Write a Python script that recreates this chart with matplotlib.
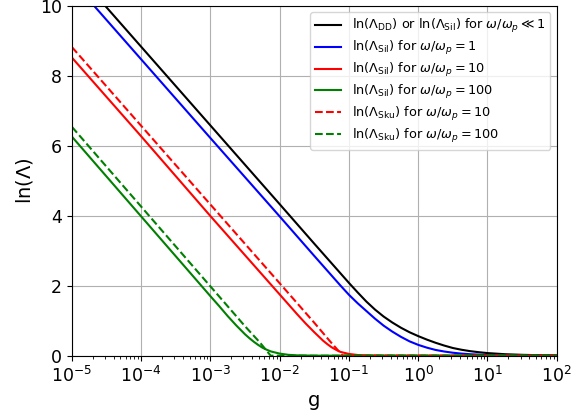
import numpy as np
import matplotlib
matplotlib.use('Agg')
import matplotlib.pyplot as plt

# log10(g) sample positions and ln(Lambda) values
black_lg = [-5.0, -4.52, -4.0, -3.0, -2.0, -1.5, -1.25, -1.0, -0.875, -0.75, -0.625, -0.5, -0.375,
            -0.25, -0.125, 0.0, 0.125, 0.25, 0.375, 0.5, 0.625, 0.75, 0.875, 1.0, 1.25, 1.5, 1.75, 2.0]
black_v = [11.1, 10.0, 8.83, 6.58, 4.33, 3.20, 2.64, 2.08, 1.81, 1.55, 1.32, 1.12, 0.95,
           0.80, 0.67, 0.56, 0.46, 0.37, 0.29, 0.22, 0.17, 0.13, 0.10, 0.075, 0.043, 0.025, 0.014, 0.008]

blue_lg = [-5.0, -4.0, -3.0, -2.0, -1.5, -1.25, -1.125, -1.0, -0.875, -0.75, -0.625, -0.5, -0.375,
           -0.25, -0.125, 0.0, 0.125, 0.25, 0.375, 0.5, 0.625, 0.75, 1.0, 1.5, 2.0]
blue_v = [10.72, 8.47, 6.22, 3.98, 2.85, 2.29, 2.01, 1.74, 1.50, 1.28, 1.06, 0.86, 0.69,
          0.54, 0.41, 0.31, 0.23, 0.165, 0.12, 0.085, 0.06, 0.042, 0.02, 0.006, 0.002]

red_lg = [-5.0, -4.0, -3.0, -2.0, -1.875, -1.75, -1.625, -1.5, -1.437, -1.374, -1.312, -1.25,
          -1.187, -1.125, -1.0, -0.875, -0.75, -0.5, 0.0, 2.0]
red_v = [8.52, 6.27, 3.99, 1.75, 1.47, 1.19, 0.92, 0.67, 0.55, 0.43, 0.33, 0.24,
         0.17, 0.11, 0.05, 0.02, 0.008, 0.001, 0.0, 0.0]

green_lg = [-5.0, -4.0, -3.0, -2.875, -2.75, -2.625, -2.5, -2.437, -2.375, -2.312, -2.25,
            -2.187, -2.125, -2.0, -1.875, -1.75, -1.5, 0.0, 2.0]
green_v = [6.26, 3.98, 1.70, 1.42, 1.13, 0.86, 0.61, 0.50, 0.40, 0.31, 0.23,
           0.17, 0.12, 0.06, 0.025, 0.01, 0.001, 0.0, 0.0]

red_sku_lg = [-5.0, -4.0, -3.0, -2.0, -1.5, -1.277, -1.09, 2.0]
red_sku_v = [8.82, 6.57, 4.32, 2.07, 0.94, 0.42, 0.0, 0.0]

green_sku_lg = [-5.0, -4.0, -3.0, -2.5, -2.287, -2.13, 2.0]
green_sku_v = [6.54, 4.26, 1.98, 0.84, 0.38, 0.0, 0.0]

series = [
    (black_lg, black_v, 'k', '-', r'ln($\Lambda_{\rm DD}$) or ln($\Lambda_{\rm Sil}$) for $\omega/\omega_p \ll 1$'),
    (blue_lg, blue_v, 'b', '-', r'ln($\Lambda_{\rm Sil}$) for $\omega/\omega_p = 1$'),
    (red_lg, red_v, 'r', '-', r'ln($\Lambda_{\rm Sil}$) for $\omega/\omega_p = 10$'),
    (green_lg, green_v, 'g', '-', r'ln($\Lambda_{\rm Sil}$) for $\omega/\omega_p = 100$'),
    (red_sku_lg, red_sku_v, 'r', '--', r'ln($\Lambda_{\rm Sku}$) for $\omega/\omega_p = 10$'),
    (green_sku_lg, green_sku_v, 'g', '--', r'ln($\Lambda_{\rm Sku}$) for $\omega/\omega_p = 100$'),
]

fig, ax = plt.subplots(figsize=(5.71, 4.17), dpi=100)
fig.subplots_adjust(left=0.126, right=0.975, top=0.986, bottom=0.147)

for lg, v, c, ls, label in series:
    ax.plot(10.0 ** np.array(lg), v, color=c, ls=ls, lw=1.5, label=label)

ax.set_xscale('log')
ax.set_xlim(1e-5, 1e2)
ax.set_ylim(0, 10)
ax.set_xlabel('g', fontsize=14)
ax.set_ylabel(r'ln($\Lambda$)', fontsize=14)
ax.tick_params(labelsize=12.5)
ax.grid(True)
ax.legend(loc='upper right', fontsize=9.3, labelspacing=0.3)

fig.savefig('out.png')
